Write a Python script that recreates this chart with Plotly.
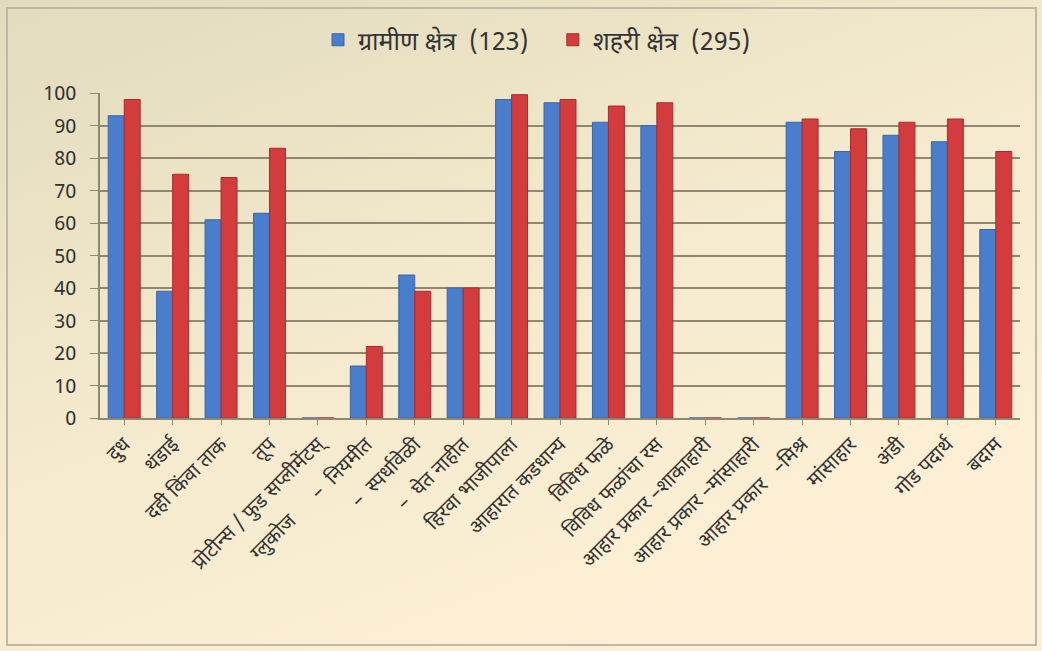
import plotly.graph_objects as go
import base64

categories = [
    "दुध", "थंडाई", "दही किंवा ताक", "तूप",
    "प्रोटीन्स / फुड सप्लीमेंटस्",
    "ग्लुकोज\u00a0\u00a0\u00a0\u00a0\u00a0\u00a0–\u00a0\u00a0नियमीत",
    "–\u00a0\u00a0स्पर्धावेळी",
    "–\u00a0\u00a0घेत नाहीत",
    "हिरवा भाजीपाला", "आहारात कडधान्य", "विविध फळे", "विविध फळांचा रस",
    "आहार प्रकार –शाकाहारी", "आहार प्रकार –मांसाहारी", "आहार प्रकार\u00a0\u00a0\u00a0–मिश्र",
    "मांसाहार", "अंडी", "गोड पदार्थ", "बदाम",
]
rural = [93, 39, 61, 63, 0, 16, 44, 40, 98, 97, 91, 90, 0, 0, 91, 82, 87, 85, 58]
urban = [98, 75, 74, 83, 0, 22, 39, 40, 99.5, 98, 96, 97, 0, 0, 92, 89, 91, 92, 82]
series_names = ["ग्रामीण क्षेत्र  (123)\u00a0\u00a0\u00a0", "शहरी क्षेत्र  (295)"]
y_ticks = [0, 10, 20, 30, 40, 50, 60, 70, 80, 90, 100]

W, H = 1042, 651
ML, MR, MT, MB = 100, 22, 93, 233
pw, ph = W - ML - MR, H - MT - MB

svg = f'''<svg xmlns="http://www.w3.org/2000/svg" width="{W}" height="{H}" viewBox="0 0 {W} {H}" preserveAspectRatio="none">
<defs><linearGradient id="g" x1="0" y1="0" x2="0.6" y2="1">
<stop offset="0" stop-color="#E2DBBD"/><stop offset="0.55" stop-color="#F5EACD"/><stop offset="1" stop-color="#FDF0D6"/>
</linearGradient></defs>
<rect x="0" y="0" width="{W}" height="{H}" fill="url(#g)"/>
</svg>'''
src = "data:image/svg+xml;base64," + base64.b64encode(svg.encode()).decode()

font = "Noto Sans Devanagari, Noto Sans, sans-serif"

fig = go.Figure()
fig.add_trace(go.Bar(x=categories, y=rural, name=series_names[0],
                     marker=dict(color="#4A7DCB", line=dict(color="#3A66A8", width=1))))
fig.add_trace(go.Bar(x=categories, y=urban, name=series_names[1],
                     marker=dict(color="#D23C3C", line=dict(color="#A82C2C", width=1))))

fig.update_layout(
    width=W, height=H,
    margin=dict(l=ML, r=MR, t=MT, b=MB, autoexpand=False),
    paper_bgcolor="#F6ECD2",
    plot_bgcolor="rgba(0,0,0,0)",
    barmode="group", bargap=0.34, bargroupgap=0.0,
    font=dict(family=font, color="#333333"),
    showlegend=True,
    legend=dict(orientation="h", x=0.475, xanchor="center", y=1 + 53 / ph, yanchor="middle",
                font=dict(size=25, color="#333333"), bgcolor="rgba(0,0,0,0)",
                itemwidth=30, traceorder="normal"),
    images=[dict(source=src, xref="paper", yref="paper",
                 x=-ML / pw, y=1 + MT / ph, sizex=W / pw, sizey=H / ph,
                 xanchor="left", yanchor="top", sizing="stretch", layer="below")],
    shapes=[dict(type="rect", xref="paper", yref="paper",
                 x0=(7 - ML) / pw, x1=(1036 - ML) / pw,
                 y0=1 - (645 - MT) / ph, y1=1 + (MT - 8) / ph,
                 line=dict(color="#BDB8A8", width=2), fillcolor="rgba(0,0,0,0)", layer="below")],
)
fig.update_yaxes(range=[0, 100], tickvals=y_ticks, showgrid=True, gridcolor="#8E8872", gridwidth=1.5,
                 showline=True, linecolor="#8E8872", linewidth=1.5, ticks="outside", ticklen=8,
                 tickcolor="#8E8872", tickfont=dict(size=20, color="#333333"), zeroline=False,
                 ticklabelstandoff=10)
fig.update_xaxes(tickangle=-45, showline=True, linecolor="#8E8872", linewidth=1.5,
                 ticks="outside", ticklen=5, tickcolor="#8E8872",
                 tickfont=dict(size=20, color="#333333"))

fig.write_html("out.html", config={"displayModeBar": False},
               post_script="document.body.style.margin='0';")
